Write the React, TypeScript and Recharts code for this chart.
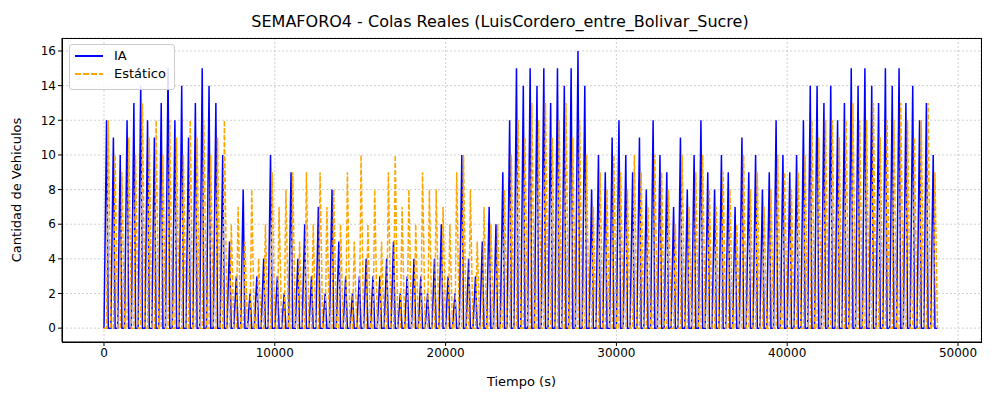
import React from "react";
import { LineChart, Line, XAxis, YAxis, CartesianGrid } from "recharts";

const binStart = 0;
const binSize = 400;
const iaPeaks = [
  12,11,10,12,13,14,12,11,13,15,12,14,11,13,15,14,13,10,
  5,3,8,2,3,4,10,3,2,9,4,6,3,7,2,8,5,3,2,3,4,3,3,4,5,2,3,4,3,2,4,6,3,2,10,4,3,5,7,6,
  9,12,15,14,15,14,15,13,15,14,15,16,14,
  8,10,9,11,12,10,9,11,8,12,10,9,7,11,8,10,12,9,8,10,9,7,11,9,10,8,9,12,10,9,
  10,12,14,14,13,14,12,13,15,14,15,14,13,15,14,15,13,14,12,13,10,
];
const estPeaks = [
  12,10,9,11,10,13,11,12,10,12,11,10,12,11,12,10,11,12,
  6,7,5,8,4,6,9,7,8,9,5,9,6,9,7,8,6,9,5,10,6,8,5,9,10,7,8,6,9,8,8,7,6,9,10,8,5,7,6,6,
  8,10,12,11,13,12,13,11,12,13,11,12,10,
  7,9,8,10,9,8,10,9,7,10,9,8,6,10,7,9,10,8,7,9,8,6,10,8,9,7,8,10,9,8,
  9,10,12,11,12,12,11,12,13,12,12,13,11,12,12,13,12,11,12,13,9,
];
const xTicks = [0, 10000, 20000, 30000, 40000, 50000];
const yTicks = [0, 2, 4, 6, 8, 10, 12, 14, 16];

const data: { t: number; ia: number; est: number }[] = [];
iaPeaks.forEach((p, i) => {
  const t0 = binStart + i * binSize;
  data.push({ t: t0, ia: 0, est: 0 });
  data.push({ t: t0 + 150, ia: p, est: 0 });
  data.push({ t: t0 + 250, ia: 0, est: estPeaks[i] });
});
data.push({ t: 48800, ia: 0, est: 0 });

const font = "DejaVu Sans, sans-serif";

export default function App() {
  return (
    <div style={{ position: "relative", width: 1000, height: 400, fontFamily: font, background: "#fff" }}>
      <style>{"body{margin:0}"}</style>
      <LineChart width={1000} height={400} data={data} margin={{ top: 38, right: 19, left: 0, bottom: 0 }}>
        <CartesianGrid stroke="#b0b0b0" strokeDasharray="2 2" strokeWidth={0.6} />
        <XAxis dataKey="t" type="number" domain={[-2459, 51347]} ticks={xTicks} height={58}
          stroke="#000" tick={{ fill: "#000", fontSize: 12, fontFamily: font }} tickSize={4}
          label={{ value: "Tiempo (s)", position: "insideBottom", offset: 14, fill: "#000", fontSize: 13, fontFamily: font }} />
        <YAxis type="number" domain={[-0.8, 16.75]} ticks={yTicks} width={62} stroke="#000"
          tick={{ fill: "#000", fontSize: 12, fontFamily: font }} tickSize={4}
          label={{ value: "Cantidad de Vehiculos", angle: -90, position: "insideLeft", offset: 16, style: { textAnchor: "middle" }, fill: "#000", fontSize: 13, fontFamily: font }} />
        <Line dataKey="ia" stroke="#0000ff" strokeWidth={1.5} dot={false} isAnimationActive={false} />
        <Line dataKey="est" stroke="#ffa500" strokeWidth={1.5} strokeDasharray="5 2" dot={false} isAnimationActive={false} />
      </LineChart>
      <div style={{ position: "absolute", left: 62, top: 38, width: 918, height: 303, border: "1px solid #000", pointerEvents: "none" }} />
      <div style={{ position: "absolute", left: 0, top: 12, width: 1000, textAlign: "center", fontSize: 16 }}>
        SEMAFORO4 - Colas Reales (LuisCordero_entre_Bolivar_Sucre)
      </div>
      <div style={{ position: "absolute", left: 69, top: 44, width: 104, height: 44, border: "1px solid #ccc", borderRadius: 3, background: "rgba(255,255,255,0.85)", fontSize: 13 }}>
        <div style={{ display: "flex", alignItems: "center", marginTop: 3, marginLeft: 5 }}>
          <svg width={30} height={10}><line x1={0} y1={5} x2={28} y2={5} stroke="#0000ff" strokeWidth={2} /></svg>
          <span style={{ marginLeft: 9 }}>IA</span>
        </div>
        <div style={{ display: "flex", alignItems: "center", marginTop: 3, marginLeft: 5 }}>
          <svg width={30} height={10}><line x1={0} y1={5} x2={28} y2={5} stroke="#ffa500" strokeWidth={2} strokeDasharray="6 2" /></svg>
          <span style={{ marginLeft: 9 }}>Estático</span>
        </div>
      </div>
    </div>
  );
}
